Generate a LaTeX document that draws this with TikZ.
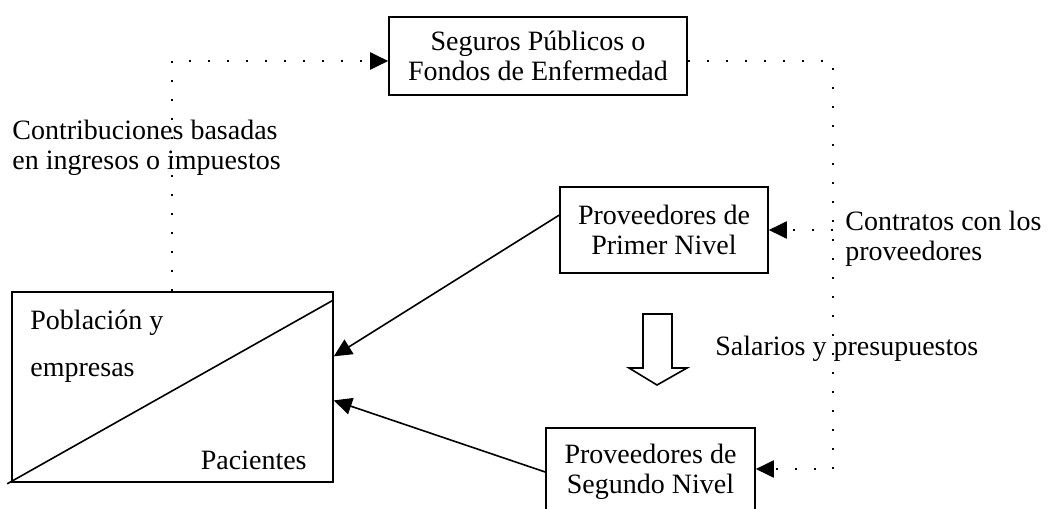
\documentclass[tikz,border=0pt]{standalone}
\usepackage{fontspec}
\setmainfont{Liberation Serif}
\usetikzlibrary{arrows.meta,calc}
\begin{document}
\begin{tikzpicture}[x=0.5pt,y=-0.5pt,
  every node/.style={font=\fontsize{14}{15.2}\selectfont},
  box/.style={draw,line width=0.8pt,align=center,inner sep=0pt},
  lbl/.style={inner sep=0pt,align=left},
  dotline/.style={line width=1pt,dash pattern=on 1pt off 8.5pt},
  tip/.style={-{Triangle[length=9pt,width=8.5pt]}},
  solid/.style={line width=0.8pt}]
\useasboundingbox (0,0) rectangle (1048,508);
% boxes
\node[box,minimum width=149pt,minimum height=39pt] (seg) at (538,56) {Seguros Públicos o\\Fondos de Enfermedad};
\node[box,minimum width=104pt,minimum height=43pt] (prim) at (664,230) {Proveedores de\\Primer Nivel};
\node[box,minimum width=104.5pt,minimum height=44pt] (seg2) at (650.5,472) {Proveedores de\\Segundo Nivel};
\node[draw,line width=0.8pt,minimum width=160.5pt,minimum height=95pt,inner sep=0pt] (pob) at (172.5,387) {};
\draw[solid] ($(pob.south west)+(-4,1)$) -- ($(pob.north east)!0.045!(pob.south east)$);
\node[lbl,anchor=west] (pobt1) at (30,323) {Población y};
\node[lbl,anchor=west] (pobt2) at (30,373) {empresas};
\node[lbl,anchor=east] (pac) at (307,460) {Pacientes};
% labels
\node[lbl,anchor=west] (contrib) at (12,148) {Contribuciones basadas\\en ingresos o impuestos};
\node[lbl,anchor=west] (contr) at (845,239) {Contratos con los\\proveedores};
\node[lbl,anchor=west] (sal) at (715,349) {Salarios y presupuestos};
% dotted connectors
\coordinate (c1) at (172,61);
\coordinate (c2) at (833,61);
\coordinate (c3) at (833,469);
\draw[dotline,tip] (pob.north -| c1) -- (c1) -- (c1 -| seg.west);
\draw[dotline,tip] (c2 -| seg.east) -- (c2) -- (c3) -- (c3 -| seg2.east);
\draw[dotline,tip] (c2 |- prim.east) -- (prim.east);
% solid arrows
\draw[solid,tip] ($(prim.north west)!0.33!(prim.south west)$) -- ($(pob.north east)!0.34!(pob.south east)$);
\draw[solid,tip] (seg2.west) -- ($(pob.north east)!0.57!(pob.south east)$);
% block arrow
\draw[line width=0.8pt] (643,314) -- (672,314) -- (672,368) -- (687,368) -- (657,385) -- (629,368) -- (643,368) -- cycle;
\end{tikzpicture}
\end{document}
